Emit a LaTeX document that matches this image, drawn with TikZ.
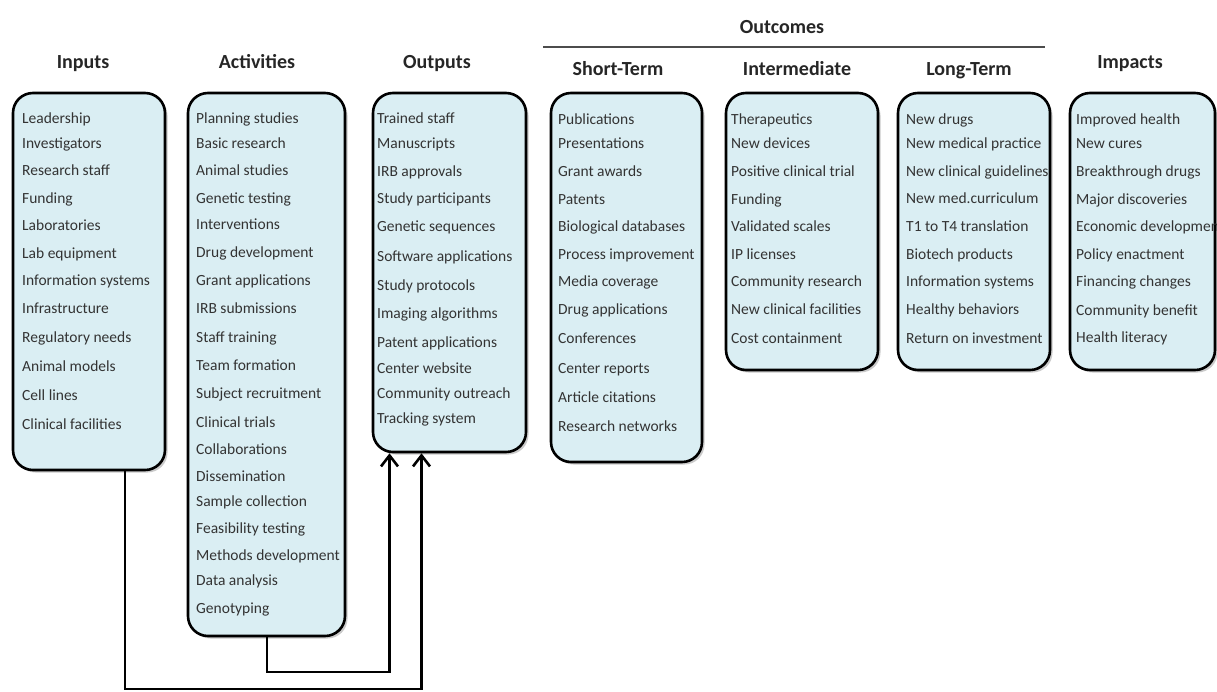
\documentclass[tikz,border=0pt]{standalone}
\usepackage{fontspec}
\setmainfont{Carlito}
\usetikzlibrary{arrows.meta,shadows}
\definecolor{boxfill}{HTML}{DAEEF3}
\begin{document}
\begin{tikzpicture}[x=1pt,y=-1pt,
  box/.style={draw=black, line width=2.6pt, rounded corners=20pt, fill=boxfill,
    drop shadow={shadow xshift=2.5pt,shadow yshift=-2.5pt,opacity=0.35,fill=black!60}, inner sep=0pt},
  head/.style={font=\fontsize{20}{24}\selectfont\bfseries, anchor=base, inner sep=0pt, text=black!85},
  item/.style={font=\fontsize{15.5}{18}\selectfont, anchor=base west, inner sep=0pt, text=black!80},
  conn/.style={line width=2.6pt, -{Straight Barb[length=11pt,width=17pt]}}]
\useasboundingbox (0,0) rectangle (1217,691);
\clip (0,0) rectangle (1217,691);

% boxes
\node[box, minimum width=152pt, minimum height=377pt] (inputs) at (89,281.5) {};
\node[box, minimum width=157pt, minimum height=543pt] (activities) at (266.5,364.5) {};
\node[box, minimum width=153pt, minimum height=359pt] (outputs) at (449.5,272.5) {};
\node[box, minimum width=151pt, minimum height=369pt] (short) at (626.5,277.5) {};
\node[box, minimum width=152pt, minimum height=277pt] (inter) at (802,231.5) {};
\node[box, minimum width=152pt, minimum height=277pt] (long) at (974,231.5) {};
\node[box, minimum width=145pt, minimum height=277pt] (impacts) at (1142.5,231.5) {};

% headers
\node[head] (hin) at (83,68) {Inputs};
\node[head] (hact) at (257,68) {Activities};
\node[head] (hout) at (437,68) {Outputs};
\node[head] (hshort) at (618,75) {Short-Term};
\node[head] (hinter) at (797,75) {Intermediate};
\node[head] (hlong) at (969,75) {Long-Term};
\node[head] (himp) at (1130,68) {Impacts};
\node[head] (houtc) at (782,33) {Outcomes};
\draw[line width=1.3pt, black!70] (543,47) -- (1045,47);

% items
\foreach \y/\t [count=\i] in {118/Leadership,143/Investigators,170/Research staff,198/Funding,225/Laboratories,253/Lab equipment,280/Information systems,308/Infrastructure,337/Regulatory needs,366/Animal models,395/Cell lines,424/Clinical facilities}
  \node[item] (in\i) at (22,\y+5) {\t};

\foreach \y/\t [count=\i] in {118/Planning studies,143/Basic research,170/Animal studies,198/Genetic testing,224/Interventions,252/Drug development,280/Grant applications,308/IRB submissions,337/Staff training,365/Team formation,393/Subject recruitment,422/Clinical trials,449/Collaborations,476/Dissemination,501/Sample collection,528/Feasibility testing,555/Methods development,580/Data analysis,608/Genotyping}
  \node[item] (act\i) at (196,\y+5) {\t};

\foreach \y/\t [count=\i] in {118/Trained staff,143/Manuscripts,171/IRB approvals,198/Study participants,226/Genetic sequences,256/Software applications,285/Study protocols,313/Imaging algorithms,342/Patent applications,368/Center website,393/Community outreach,418/Tracking system}
  \node[item] (out\i) at (377,\y+5) {\t};

\foreach \y/\t [count=\i] in {119/Publications,143/Presentations,171/Grant awards,199/Patents,226/Biological databases,254/Process improvement,281/Media coverage,309/Drug applications,338/Conferences,368/Center reports,397/Article citations,426/Research networks}
  \node[item] (st\i) at (558,\y+5) {\t};

\foreach \y/\t [count=\i] in {119/Therapeutics,143/New devices,171/Positive clinical trial,199/Funding,226/Validated scales,254/IP licenses,281/Community research,309/New clinical facilities,338/Cost containment}
  \node[item] (im\i) at (731,\y+5) {\t};

\foreach \y/\t [count=\i] in {119/New drugs,143/New medical practice,171/New clinical guidelines,198/New med.curriculum,226/T1 to T4 translation,254/Biotech products,281/Information systems,309/Healthy behaviors,338/Return on investment}
  \node[item] (lt\i) at (906,\y+5) {\t};

\foreach \y/\t [count=\i] in {119/Improved  health,143/New cures,171/Breakthrough drugs,199/Major discoveries,226/Economic development,254/Policy enactment,281/Financing changes,310/Community benefit,337/Health literacy}
  \node[item] (ip\i) at (1076,\y+5) {\t};

% connectors
\coordinate (j1) at (125,689);
\coordinate (j2) at (267,672);
\draw[conn] (inputs.south -| j1) -- (j1) -| ([xshift=-28pt]outputs.south);
\draw[conn] (activities.south -| j2) -- (j2) -| ([xshift=-60pt]outputs.south);
\end{tikzpicture}
\end{document}
